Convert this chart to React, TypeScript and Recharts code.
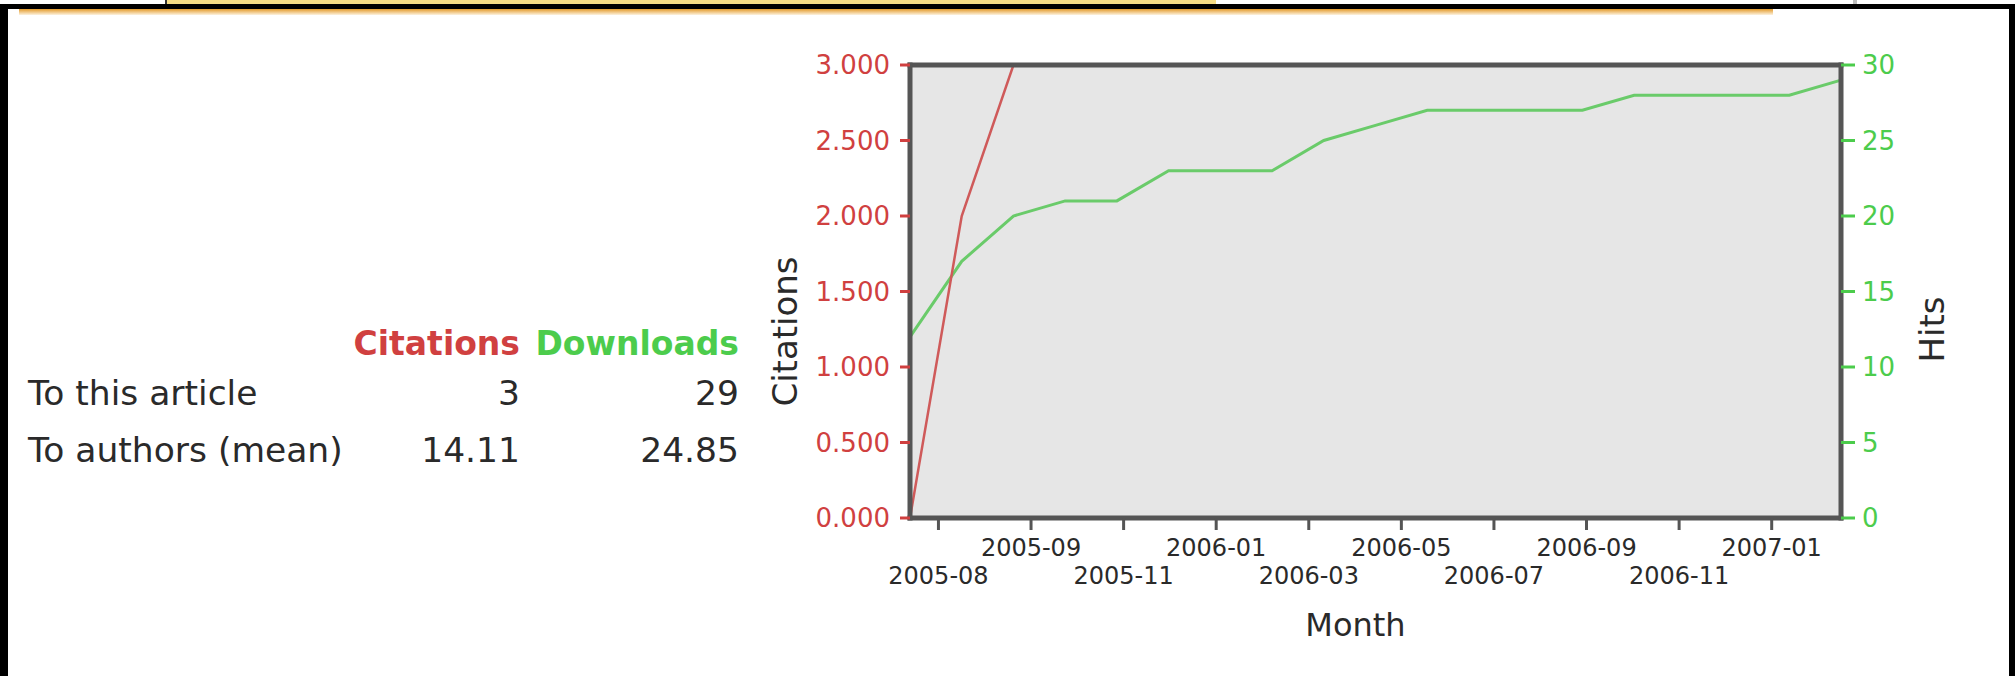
import React from 'react';
import { LineChart, Line, XAxis, YAxis, CartesianGrid, Label } from 'recharts';

// ---- data ----
const periods = [0, 1, 2, 3, 4, 5, 6, 7, 8, 9, 10, 11, 12, 13, 14, 15, 16, 17, 18];
const citations = [0, 2, 3, 3, 3, 3, 3, 3, 3, 3, 3, 3, 3, 3, 3, 3, 3, 3, 3];
const hits = [12, 17, 20, 21, 21, 23, 23, 23, 25, 26, 27, 27, 27, 27, 28, 28, 28, 28, 29];
const xTickValues = [0.55, 2.34, 4.13, 5.92, 7.71, 9.5, 11.29, 13.08, 14.87, 16.66];
const xTickLabels = ['2005-08', '2005-09', '2005-11', '2006-01', '2006-03', '2006-05', '2006-07', '2006-09', '2006-11', '2007-01'];
const citationTicks = [0, 0.5, 1, 1.5, 2, 2.5, 3];
const hitTicks = [0, 5, 10, 15, 20, 25, 30];
const statRowLabels = ['To this article', 'To authors (mean)'];
const statCitations = ['3', '14.11'];
const statDownloads = ['29', '24.85'];

const chartData = periods.map((p, i) => ({ period: p, citations: citations[i], hits: hits[i] }));

const RED = '#d04040';
const GREEN = '#4ccc4c';
const RED_LINE = '#cf5a5a';
const GREEN_LINE = '#6acb6a';
const BORDER = '#555555';
const TEXT = '#2a2a2a';
const FONT = '"DejaVu Sans", "Liberation Sans", sans-serif';

const MonthTick = (props: any) => {
  const { x, y, payload } = props;
  const idx = xTickValues.indexOf(payload.value);
  const lower = idx % 2 === 0;
  return (
    <text x={x} y={y + (lower ? 54 : 26)} textAnchor="middle" fontSize={24} fill={TEXT} fontFamily={FONT}>
      {xTickLabels[idx]}
    </text>
  );
};

const tableText: React.CSSProperties = {
  position: 'absolute',
  fontSize: 33,
  lineHeight: '33px',
  whiteSpace: 'nowrap',
  fontFamily: FONT,
  color: TEXT,
};

const rowText: React.CSSProperties = { ...tableText, fontSize: 34.5, lineHeight: '34.5px' };

const rowTops = [376, 433];

export default function App() {
  return (
    <div
      style={{
        position: 'fixed',
        left: 0,
        top: 0,
        width: 2015,
        height: 676,
        background: '#fff',
        overflow: 'hidden',
        fontFamily: FONT,
      }}
    >
      {/* page decorations */}
      <div style={{ position: 'absolute', left: 165, top: 0, width: 1049, height: 4, background: '#f6dc84', borderLeft: '2px solid #333' }} />
      <div style={{ position: 'absolute', left: 1853, top: 0, width: 4, height: 4, background: '#bdbdbd' }} />
      <div style={{ position: 'absolute', left: 0, top: 4, width: 2015, height: 5, background: '#000' }} />
      <div style={{ position: 'absolute', left: 0, top: 4, width: 8, height: 672, background: '#000' }} />
      <div style={{ position: 'absolute', left: 2009, top: 4, width: 6, height: 672, background: '#000' }} />
      <div
        style={{
          position: 'absolute',
          left: 19,
          top: 9,
          width: 1754,
          height: 6,
          background: 'linear-gradient(#e39a2a, rgba(246,205,130,0.25))',
        }}
      />

      {/* stats table */}
      <div style={{ ...tableText, left: 0, width: 520, top: 327, textAlign: 'right', fontWeight: 'bold', color: RED }}>Citations</div>
      <div style={{ ...tableText, left: 0, width: 739, top: 327, textAlign: 'right', fontWeight: 'bold', color: GREEN }}>Downloads</div>
      {statRowLabels.map((label, i) => (
        <React.Fragment key={label}>
          <div style={{ ...rowText, left: 28, top: rowTops[i] }}>{label}</div>
          <div style={{ ...rowText, left: 0, width: 520, top: rowTops[i], textAlign: 'right' }}>{statCitations[i]}</div>
          <div style={{ ...rowText, left: 0, width: 739, top: rowTops[i], textAlign: 'right' }}>{statDownloads[i]}</div>
        </React.Fragment>
      ))}

      {/* chart */}
      <div style={{ position: 'absolute', left: 700, top: 0 }}>
        <LineChart width={1315} height={676} data={chartData} margin={{ top: 64, right: 0, bottom: 0, left: 0 }}>
          <CartesianGrid horizontal={false} vertical={false} fill="#e6e6e6" stroke="none" xAxisId="bottom" yAxisId="cit" />
          <Line
            xAxisId="bottom"
            yAxisId="hits"
            type="linear"
            dataKey="hits"
            stroke={GREEN_LINE}
            strokeWidth={3}
            dot={false}
            isAnimationActive={false}
          />
          <Line
            xAxisId="bottom"
            yAxisId="cit"
            type="linear"
            dataKey="citations"
            stroke={RED_LINE}
            strokeWidth={2.5}
            dot={false}
            isAnimationActive={false}
          />
          <XAxis
            xAxisId="top"
            orientation="top"
            type="number"
            dataKey="period"
            domain={[0, 18]}
            height={1}
            tick={false}
            tickLine={false}
            axisLine={{ stroke: BORDER, strokeWidth: 5, strokeLinecap: 'square' }}
            zIndex={1000}
          />
          <XAxis
            xAxisId="bottom"
            orientation="bottom"
            type="number"
            dataKey="period"
            domain={[0, 18]}
            ticks={xTickValues}
            interval={0}
            height={158}
            tickSize={12}
            tickMargin={0}
            tick={<MonthTick />}
            tickLine={{ stroke: BORDER, strokeWidth: 3 }}
            axisLine={{ stroke: BORDER, strokeWidth: 5, strokeLinecap: 'square' }}
            zIndex={1000}
          >
            <Label value="Month" position="insideTop" offset={95} dx={-20} style={{ fontSize: 32, fill: TEXT, fontFamily: FONT }} />
          </XAxis>
          <YAxis
            yAxisId="cit"
            orientation="left"
            width={210}
            domain={[0, 3]}
            ticks={citationTicks}
            interval={0}
            tickSize={10}
            tickMargin={10}
            tickFormatter={(v: number) => v.toFixed(3)}
            tick={{ fill: RED, fontSize: 26, fontFamily: FONT }}
            tickLine={{ stroke: RED, strokeWidth: 3 }}
            axisLine={{ stroke: BORDER, strokeWidth: 5, strokeLinecap: 'square' }}
            zIndex={1000}
          >
            <Label value="Citations" angle={-90} position="center" dx={-20} dy={40} style={{ fontSize: 34, fill: TEXT, fontFamily: FONT }} />
          </YAxis>
          <YAxis
            yAxisId="hits"
            orientation="right"
            width={174}
            domain={[0, 30]}
            ticks={hitTicks}
            interval={0}
            tickSize={14}
            tickMargin={7}
            tick={{ fill: GREEN, fontSize: 26, fontFamily: FONT }}
            tickLine={{ stroke: GREEN, strokeWidth: 3 }}
            axisLine={{ stroke: BORDER, strokeWidth: 5, strokeLinecap: 'square' }}
            zIndex={1000}
          >
            <Label value="Hits" angle={-90} position="center" dx={4} dy={38} style={{ fontSize: 34, fill: TEXT, fontFamily: FONT }} />
          </YAxis>
        </LineChart>
      </div>
    </div>
  );
}
